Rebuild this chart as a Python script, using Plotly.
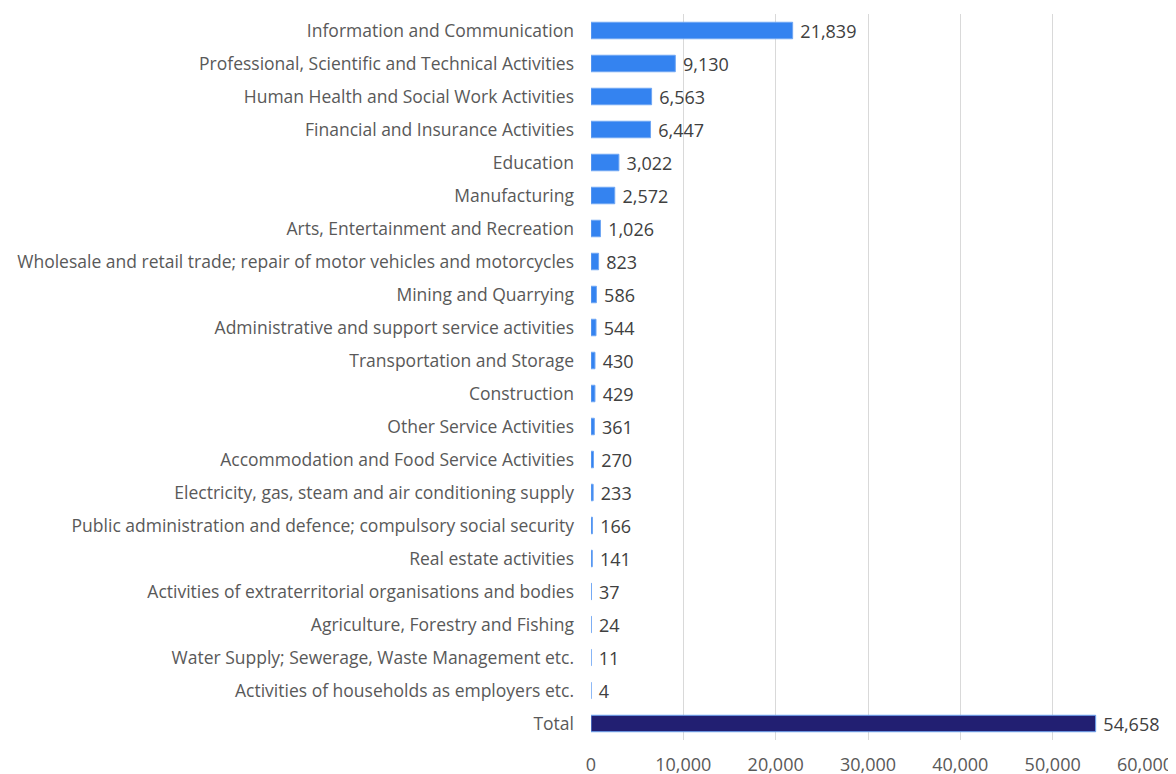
import plotly.graph_objects as go

categories = [
    "Information and Communication",
    "Professional, Scientific and Technical Activities",
    "Human Health and Social Work Activities",
    "Financial and Insurance Activities",
    "Education",
    "Manufacturing",
    "Arts, Entertainment and Recreation",
    "Wholesale and retail trade; repair of motor vehicles and motorcycles",
    "Mining and Quarrying",
    "Administrative and support service activities",
    "Transportation and Storage",
    "Construction",
    "Other Service Activities",
    "Accommodation and Food Service Activities",
    "Electricity, gas, steam and air conditioning supply",
    "Public administration and defence; compulsory social security",
    "Real estate activities",
    "Activities of extraterritorial organisations and bodies",
    "Agriculture, Forestry and Fishing",
    "Water Supply; Sewerage, Waste Management etc.",
    "Activities of households as employers etc.",
    "Total",
]
values = [21839, 9130, 6563, 6447, 3022, 2572, 1026, 823, 586, 544, 430, 429,
          361, 270, 233, 166, 141, 37, 24, 11, 4, 54658]
x_ticks = [0, 10000, 20000, 30000, 40000, 50000, 60000]

BLUE = "#3483F0"
NAVY = "#221F72"
colors = [NAVY if c == "Total" else BLUE for c in categories]
FONT = "Open Sans"

fig = go.Figure(go.Bar(
    y=categories,
    x=values,
    orientation="h",
    marker=dict(color=colors, line=dict(color="#6fa6f3", width=1)),
    text=[f" {v:,}" for v in values],
    textposition="outside",
    constraintext="none",
    textfont=dict(family=FONT, size=18, color="#404040"),
    cliponaxis=False,
    width=0.5,
))

fig.update_layout(
    width=1176, height=774,
    margin=dict(l=583, r=39, t=6, b=42),
    paper_bgcolor="white", plot_bgcolor="white",
    showlegend=False,
    font=dict(family=FONT, size=17, color="#595959"),
    xaxis=dict(
        range=[0, 60000], tickvals=x_ticks, tickformat=",",
        showgrid=True, gridcolor="#d9d9d9", gridwidth=1,
        zeroline=False, showline=False, ticks="",
        ticklabelstandoff=12,
        tickfont=dict(family=FONT, size=18, color="#595959"),
    ),
    yaxis=dict(
        categoryorder="array", categoryarray=categories,
        autorange="reversed", showgrid=False, ticks="",
        showline=False, ticklabelstandoff=16,
        tickfont=dict(family=FONT, size=17.5, color="#595959"),
    ),
)

fig.write_html("out.html", config={"displayModeBar": False})
